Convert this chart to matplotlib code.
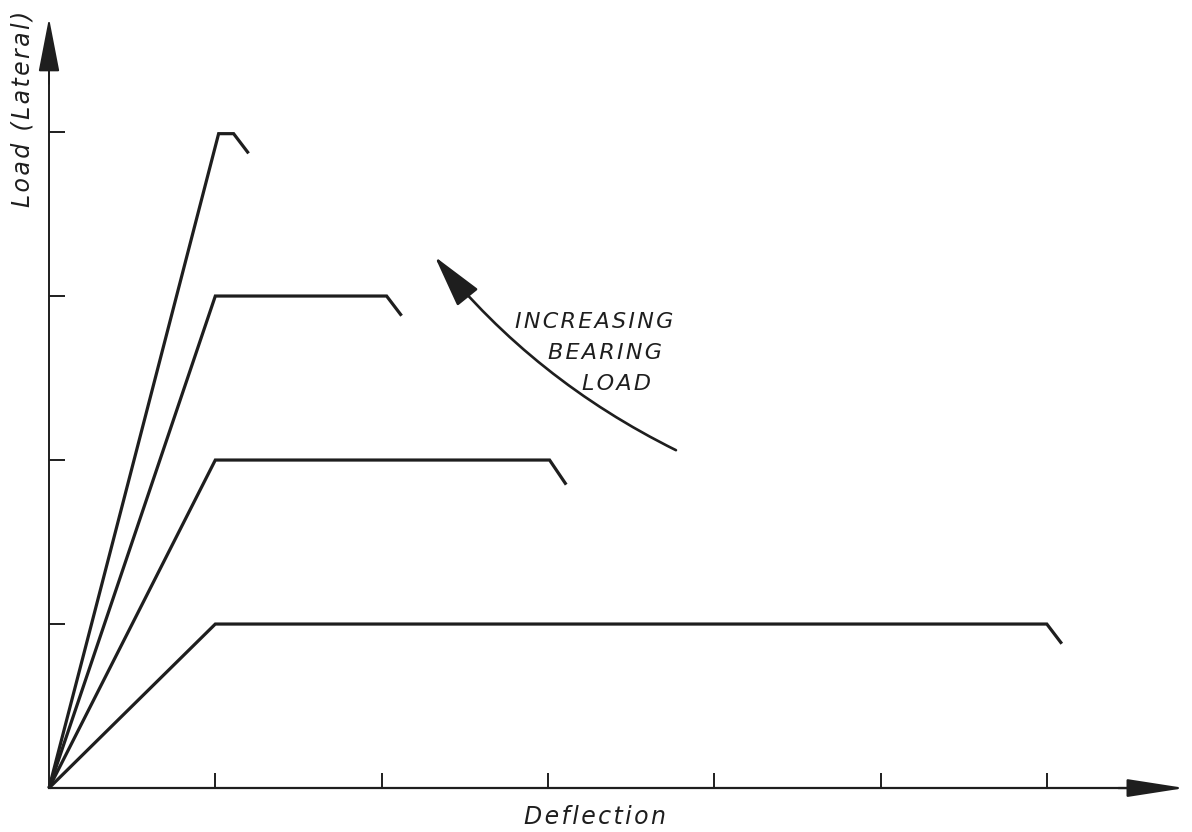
import matplotlib
matplotlib.use("Agg")
import matplotlib.pyplot as plt

# ---- data (in tick units) ----
x_ticks = [1, 2, 3, 4, 5, 6]
y_ticks = [1, 2, 3, 4]

curve1_x = [0, 1.0, 6.0, 6.09]
curve1_y = [0, 1.0, 1.0, 0.88]
curve2_x = [0, 1.0, 3.01, 3.11]
curve2_y = [0, 2.0, 2.0, 1.85]
curve3_x = [0, 1.0, 2.03, 2.12]
curve3_y = [0, 3.0, 3.0, 2.88]
curve4_x = [0, 1.02, 1.11, 1.20]
curve4_y = [0, 3.99, 3.99, 3.87]

x_axis_end = 6.83
y_axis_end = 4.695

arrow_start = (3.77, 2.06)
arrow_end = (2.32, 3.24)
note_lines = ["INCREASING", "BEARING", "LOAD"]

x_label = "Deflection"
y_label = "Load (Lateral)"

ink = "#1e1e1e"
HS = "\u200a"


def spaced(s):
    return HS.join(s)


fig = plt.figure(figsize=(11.92, 8.32), dpi=100)
ax = fig.add_axes([0, 0, 1, 1])
ax.set_xlim(-0.2947, 6.873)
ax.set_ylim(-0.268, 4.805)

for cx, cy in [(curve1_x, curve1_y), (curve2_x, curve2_y),
               (curve3_x, curve3_y), (curve4_x, curve4_y)]:
    ax.plot(cx, cy, color=ink, lw=2.3, solid_joinstyle="miter",
            solid_capstyle="butt", zorder=3)

# axes as spines through origin
for s in ["top", "right"]:
    ax.spines[s].set_visible(False)
ax.spines["left"].set_position(("data", 0))
ax.spines["bottom"].set_position(("data", 0))
ax.spines["left"].set_bounds(0, y_axis_end - 0.25)
ax.spines["bottom"].set_bounds(0, x_axis_end - 0.25)
ax.spines["left"].set_linewidth(1.4)
ax.spines["bottom"].set_linewidth(1.6)
ax.spines["left"].set_color(ink)
ax.spines["bottom"].set_color(ink)
ax.set_xticks(x_ticks)
ax.set_yticks(y_ticks)
ax.set_xticklabels([])
ax.set_yticklabels([])
ax.tick_params(axis="x", direction="in", length=11, width=1.4, color=ink)
ax.tick_params(axis="y", direction="in", length=11.5, width=1.4, color=ink)

# axis arrowheads
ax.annotate("", xy=(x_axis_end, 0), xytext=(x_axis_end - 0.4, 0),
            arrowprops=dict(arrowstyle="-|>,head_length=1.8,head_width=0.28",
                            mutation_scale=20, color=ink, lw=1.6,
                            shrinkA=0, shrinkB=0))
ax.annotate("", xy=(0, y_axis_end), xytext=(0, y_axis_end - 0.4),
            arrowprops=dict(arrowstyle="-|>,head_length=1.7,head_width=0.33",
                            mutation_scale=20, color=ink, lw=1.4,
                            shrinkA=0, shrinkB=0))

# curved arrow
ax.annotate("", xy=arrow_end, xytext=arrow_start,
            arrowprops=dict(arrowstyle="-|>,head_length=1.5,head_width=0.38",
                            connectionstyle="arc3,rad=-0.11",
                            mutation_scale=22, color=ink, lw=1.9,
                            shrinkA=0, shrinkB=0))

font = dict(family="DejaVu Sans", style="italic", color=ink)
ys = [(788 - 322) / 164, (788 - 353) / 164, (788 - 384) / 164]
xs = [(673 - 49) / 166.3, (662 - 49) / 166.3, (651 - 49) / 166.3]
for t, xx, yy in zip(note_lines, xs, ys):
    ax.text(xx, yy, spaced(t), ha="right", va="center", fontsize=16, **font)

ax.text((595 - 49) / 166.3, (788 - 817) / 164, spaced(x_label), ha="center",
        va="center", fontsize=17, **font)
ax.text((22 - 49) / 166.3, (788 - 109) / 164, spaced(y_label), ha="center",
        va="center", rotation=90, fontsize=17, **font)

fig.savefig("out.png", dpi=100)
